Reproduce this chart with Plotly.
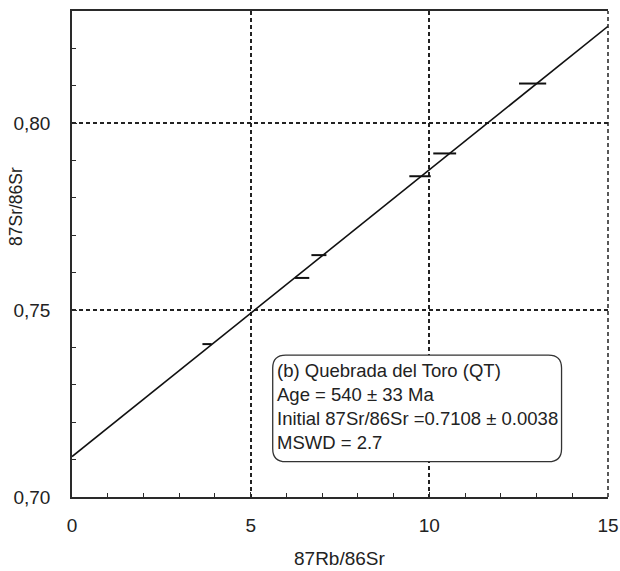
import plotly.graph_objects as go

# data
rb_sr = [3.78, 6.44, 6.91, 9.74, 10.43, 12.89]
sr_sr = [0.7409, 0.7586, 0.7647, 0.7858, 0.7919, 0.8106]
rb_err = [0.13, 0.20, 0.21, 0.30, 0.32, 0.38]

iso_x = [0, 15]
iso_y = [0.7108, 0.8259]

x_ticks = [0, 5, 10, 15]
x_ticklabels = ["0", "5", "10", "15"]
y_ticks = [0.70, 0.75, 0.80]
y_ticklabels = ["0,70", "0,75", "0,80"]

info_lines = [
    "(b) Quebrada del Toro (QT)",
    "Age = 540 ± 33 Ma",
    "Initial 87Sr/86Sr =0.7108 ± 0.0038",
    "MSWD = 2.7",
]

FONT = "Liberation Sans, Arial, sans-serif"
AX = "#2a2a2a"

fig = go.Figure()

fig.add_trace(go.Scatter(
    x=iso_x, y=iso_y, mode="lines",
    line=dict(color="#111", width=1.6),
    hoverinfo="skip", showlegend=False,
))

fig.add_trace(go.Scatter(
    x=rb_sr, y=sr_sr, mode="markers",
    marker=dict(size=1, color="rgba(0,0,0,0)"),
    error_x=dict(type="data", array=rb_err, symmetric=True,
                 color="#111", thickness=2, width=0),
    showlegend=False,
))

# rounded info box
bx0, bx1, by0, by1 = 5.617, 13.70, 0.70944, 0.73797
rx, ry = 0.364, 0.00348
path = (f"M {bx0+rx},{by0} L {bx1-rx},{by0} Q {bx1},{by0} {bx1},{by0+ry} "
        f"L {bx1},{by1-ry} Q {bx1},{by1} {bx1-rx},{by1} "
        f"L {bx0+rx},{by1} Q {bx0},{by1} {bx0},{by1-ry} "
        f"L {bx0},{by0+ry} Q {bx0},{by0} {bx0+rx},{by0} Z")
fig.add_shape(type="path", path=path, xref="x", yref="y",
              line=dict(color="#333", width=1.3), fillcolor="white", layer="above")

fig.add_annotation(
    x=5.68, y=0.72433, xref="x", yref="y", xanchor="left", yanchor="middle",
    text="<br>".join(info_lines), align="left", showarrow=False,
    font=dict(family=FONT, size=18.5, color="#222"),
)

# right border (dashed like grid)
fig.add_shape(type="line", xref="paper", yref="paper", x0=1, x1=1, y0=0, y1=1,
              line=dict(color="#222", width=1.5, dash="4px,3px"), layer="above")

# axis titles
fig.add_annotation(
    x=0.5, y=0, xref="paper", yref="paper", xanchor="center", yanchor="middle",
    yshift=-61, text="87Rb/86Sr", showarrow=False,
    font=dict(family=FONT, size=19, color="#222"),
)
fig.add_annotation(
    x=0, y=(497 - 207) / 486, xref="paper", yref="paper", xanchor="center",
    yanchor="middle", xshift=-56, textangle=-90, text="87Sr/86Sr",
    showarrow=False, font=dict(family=FONT, size=17.5, color="#222"),
)

fig.update_layout(
    width=620, height=571, autosize=False,
    margin=dict(l=72, r=12, t=11, b=74, autoexpand=False),
    paper_bgcolor="white", plot_bgcolor="white",
    font=dict(family=FONT, size=19, color="#222"),
    separators=",.",
    showlegend=False,
)

fig.update_xaxes(
    range=[0, 15], tickvals=x_ticks, ticktext=x_ticklabels, automargin=False,
    showline=True, linecolor=AX, linewidth=1.5, mirror=True,
    ticks="inside", ticklen=5, tickcolor=AX, tickwidth=1.3,
    minor=dict(dtick=1, ticks="inside", ticklen=4, tickcolor=AX, tickwidth=1.3, showgrid=False),
    showgrid=True, gridcolor="#222", gridwidth=1.5, griddash="4px,3px",
    zeroline=False, ticklabelstandoff=10,
    tickfont=dict(family=FONT, size=19, color="#222"),
)
fig.update_yaxes(
    range=[0.70, 0.83], tickvals=y_ticks, ticktext=y_ticklabels, automargin=False,
    showline=True, linecolor=AX, linewidth=1.5, mirror=False,
    ticks="inside", ticklen=5, tickcolor=AX, tickwidth=1.3,
    minor=dict(dtick=0.01, tick0=0.70, ticks="inside", ticklen=4, tickcolor=AX, tickwidth=1.3, showgrid=False),
    showgrid=True, gridcolor="#222", gridwidth=1.5, griddash="4px,3px",
    zeroline=False, ticklabelstandoff=16,
    tickfont=dict(family=FONT, size=19, color="#222"),
)

fig.write_html(
    "out.html",
    config={"displayModeBar": False},
    post_script="document.body.style.margin='0';document.body.style.overflow='hidden';",
)
